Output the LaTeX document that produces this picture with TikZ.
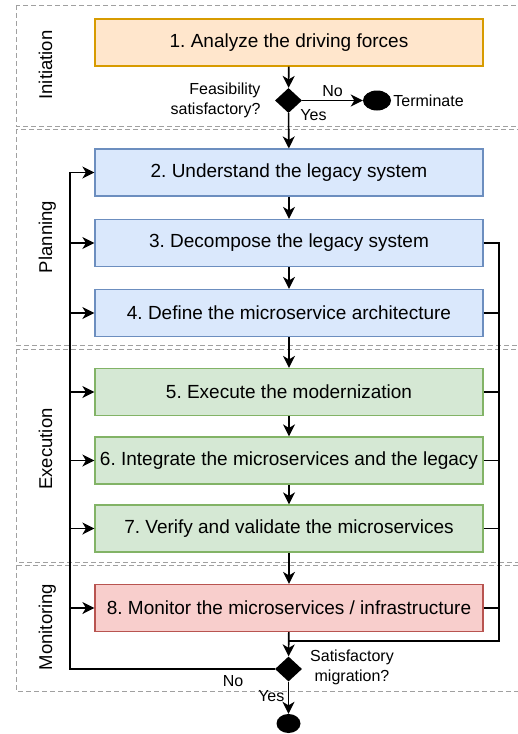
\documentclass[tikz,border=0pt]{standalone}
\usepackage{fontspec}
\setmainfont{Liberation Sans}
\usetikzlibrary{arrows.meta,positioning,shapes.geometric}
\frenchspacing

\definecolor{lanegray}{HTML}{A0A0A0}
\definecolor{orangefill}{HTML}{FFE6CC}
\definecolor{orangeline}{HTML}{D79B00}
\definecolor{bluefill}{HTML}{DAE8FC}
\definecolor{blueline}{HTML}{6C8EBF}
\definecolor{greenfill}{HTML}{D5E8D4}
\definecolor{greenline}{HTML}{82B366}
\definecolor{redfill}{HTML}{F8CECC}
\definecolor{redline}{HTML}{B85450}

\begin{document}
\begin{tikzpicture}[
    x=1pt, y=-1pt,
    every node/.style={font=\fontsize{16}{20}\selectfont},
    stepbox/.style={rectangle, draw, line width=1.2pt, minimum width=388pt, minimum height=47pt, inner sep=2pt, font=\fontsize{19}{22}\selectfont},
    lane/.style={draw=lanegray, line width=1pt, dash pattern=on 5pt off 3pt},
    lanename/.style={rotate=90, anchor=base, font=\fontsize{18.5}{22}\selectfont},
    decision/.style={diamond, fill=black, inner sep=0pt, minimum width=27pt, minimum height=25pt},
    endpoint/.style={ellipse, fill=black, inner sep=0pt},
    link/.style={line width=1.6pt},
    flow/.style={link, -{Stealth[length=12pt, width=12pt, inset=3.5pt]}},
]
    \useasboundingbox (0,0) rectangle (518,734);
    \clip (0,0) rectangle (518,734);

    % Phases
    \draw[lane] (16,5) rectangle (525,126);
    \draw[lane] (16,129) rectangle (525,345);
    \draw[lane] (16,349) rectangle (525,562);
    \draw[lane] (16,565) rectangle (525,691);
    \node[lanename] (initiation) at (52,65) {Initiation};
    \node[lanename] (planning) at (52,237) {Planning};
    \node[lanename] (execution) at (52,449) {Execution};
    \node[lanename] (monitoring) at (52,627) {Monitoring};

    % Initiation
    \node[stepbox, fill=orangefill, draw=orangeline] (analyze) at (289,42.5) {1. Analyze the driving forces};
    \node[decision] (feasible) at (288.5,100.5) {};
    \node[anchor=east, align=right] (feasq) at (264,100) {Feasibility\\satisfactory?};
    \node[endpoint, minimum width=28pt, minimum height=20pt] (terminate) at (377,100.5) {};
    \node[right=0pt of terminate, inner sep=2pt] (termtext) {Terminate};

    % Planning
    \node[stepbox, fill=bluefill, draw=blueline] (understand) at (289,172.5) {2. Understand the legacy system};
    \node[stepbox, fill=bluefill, draw=blueline] (decompose) at (289,243) {3. Decompose the legacy system};
    \node[stepbox, fill=bluefill, draw=blueline] (define) at (289,313) {4. Define the microservice architecture};

    % Execution
    \node[stepbox, fill=greenfill, draw=greenline] (execute) at (289,392) {5. Execute the modernization};
    \node[stepbox, fill=greenfill, draw=greenline] (integrate) at (289,460.5) {6. Integrate the microservices and the legacy};
    \node[stepbox, fill=greenfill, draw=greenline] (verify) at (289,528.5) {7. Verify and validate the microservices};

    % Monitoring
    \node[stepbox, fill=redfill, draw=redline] (monitor) at (289,608) {8. Monitor the microservices / infrastructure};
    \node[decision] (check) at (288.5,669) {};
    \node[align=center] (checkq) at (352,667.5) {Satisfactory\\migration?};
    \node[endpoint, minimum width=24pt, minimum height=19pt] (done) at (288.5,723.5) {};

    % Rails for the loops
    \coordinate (leftrail) at (70,0);
    \coordinate (rightrail) at (499,0);
    \coordinate (merge) at (288.5,641);

    % Main flow
    \draw[flow] (analyze) -- (feasible);
    \draw[flow] (feasible) -- node[above] {No} (terminate);
    \node (yesfeas) at (313.5,115.5) {Yes};
    \draw[flow] (feasible) -- (understand);
    \draw[flow] (understand) -- (decompose);
    \draw[flow] (decompose) -- (define);
    \draw[flow] (define) -- (execute);
    \draw[flow] (execute) -- (integrate);
    \draw[flow] (integrate) -- (verify);
    \draw[flow] (verify) -- (monitor);
    \draw[flow] (monitor) -- (check);
    \draw[flow] (check) -- node[left, pos=0.45] {Yes} (done);

    % Collect outputs on the right
    \draw[link] (decompose.east) -| (rightrail |- merge) -- (merge);
    \foreach \n in {define,execute,integrate,verify,monitor}
        \draw[link] (\n.east) -- (\n.east -| rightrail);

    % Loop back on the left
    \draw[flow] (check.west) -- (check.west -| leftrail) |- (understand.west);
    \node (nocheck) at (233,681) {No};
    \foreach \n in {decompose,define,execute,integrate,verify,monitor}
        \draw[flow] (\n.west -| leftrail) -- (\n.west);
\end{tikzpicture}
\end{document}
